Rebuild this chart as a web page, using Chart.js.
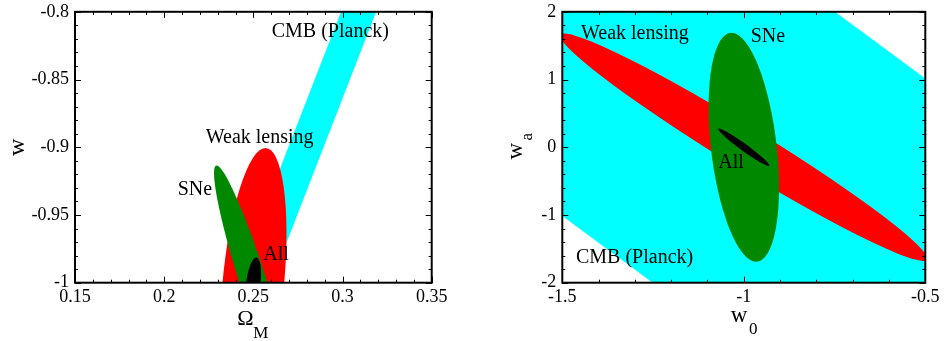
<!DOCTYPE html>
<html><head><meta charset="utf-8">
<script src="https://cdn.jsdelivr.net/npm/chart.js@4.4.1/dist/chart.umd.min.js"></script>
<style>
html,body{margin:0;padding:0;background:#fff;overflow:hidden;width:945px;height:341px;position:relative}
.p{position:absolute;top:-5px}
canvas{display:block}
</style></head><body>
<div class="p" style="left:0px"><canvas id="c1" width="470" height="346"></canvas></div>
<div class="p" style="left:470px"><canvas id="c2" width="475" height="346"></canvas></div>
<script>
// ---------- DATA ----------
// Constraint regions (ellipses): centre + two conjugate semi-diameters (data units)
const regionNames = ['CMB (Planck)', 'Weak lensing', 'SNe', 'All'];

// Left panel: Omega_M vs w
const leftCenterX = [0.25, 0.25, 0.25, 0.25];
const leftCenterY = [-1, -1, -1, -1];
const leftAxis1X  = [0.0099, 0.0173, 0.0079, 0.0040];
const leftAxis1Y  = [0, 0, 0, 0];
const leftAxis2X  = [0.59, 0.0068, -0.0206, 0.0016];
const leftAxis2Y  = [2, 0.0995, 0.0866, 0.0186];
const leftLabelX  = [0.2603, 0.2233, 0.2076, 0.2556];
const leftLabelY  = [-0.8188, -0.8969, -0.9353, -0.9829];

// Right panel: w0 vs wa
const rightCenterX = [-1, -1, -1, -1];
const rightCenterY = [0, 0, 0, 0];
const rightAxis1X  = [0.755, 0, 0.091, 0];
const rightAxis1Y  = [0, 0.355, 0, 0.065];
const rightAxis2X  = [-5, 0.505, -0.034, 0.0705];
const rightAxis2Y  = [20, -1.64, 1.69, -0.27];
const rightLabelX  = [-1.4623, -1.4485, -0.981, -1.0702];
const rightLabelY  = [-1.712, 1.600, 1.551, -0.300];

// Tick values and labels
const leftXTicks = [0.15, 0.2, 0.25, 0.3, 0.35];
const leftXTickLabels = ['0.15', '0.2', '0.25', '0.3', '0.35'];
const leftYTicks = [-1, -0.95, -0.9, -0.85, -0.8];
const leftYTickLabels = ['-1', '-0.95', '-0.9', '-0.85', '-0.8'];
const rightXTicks = [-1.5, -1, -0.5];
const rightXTickLabels = ['-1.5', '-1', '-0.5'];
const rightYTicks = [-2, -1, 0, 1, 2];
const rightYTickLabels = ['-2', '-1', '0', '1', '2'];
const leftXMinorStep = 0.01, leftYMinorStep = 0.01;
const rightXMinorStep = 0.1, rightYMinorStep = 0.2;

// ---------- STYLE ----------
const regionColors = ['#00ffff', '#ff0000', '#008800', '#000000'];
const SERIF = "'Liberation Serif', 'Times New Roman', serif";

function minorList(min, max, step) {
  const out = [];
  const n = Math.round((max - min) / step);
  for (let i = 0; i <= n; i++) out.push(+(min + i * step).toFixed(6));
  return out;
}

const ellipsePlugin = {
  id: 'ellipses',
  beforeDatasetsDraw(chart) {
    const ctx = chart.ctx, a = chart.chartArea;
    const xs = chart.scales.x, ys = chart.scales.y;
    ctx.save();
    ctx.beginPath();
    ctx.rect(a.left, a.top, a.right - a.left, a.bottom - a.top);
    ctx.clip();
    chart.data.datasets.forEach(ds => {
      const c = ds.data[0], e = ds.ellipse;
      const px = xs.getPixelForValue(c.x), py = ys.getPixelForValue(c.y);
      const ux = xs.getPixelForValue(c.x + e.ux) - px, uy = ys.getPixelForValue(c.y + e.uy) - py;
      const vx = xs.getPixelForValue(c.x + e.vx) - px, vy = ys.getPixelForValue(c.y + e.vy) - py;
      ctx.save();
      ctx.transform(ux, uy, vx, vy, px, py);
      ctx.beginPath();
      ctx.arc(0, 0, 1, 0, Math.PI * 2);
      ctx.restore();
      ctx.fillStyle = ds.fillColor;
      ctx.fill();
    });
    ctx.restore();
  }
};

function framePlugin(opt) {
  return {
    id: 'frame',
    afterDraw(chart) {
      const ctx = chart.ctx, a = chart.chartArea;
      const xs = chart.scales.x, ys = chart.scales.y;
      ctx.save();
      // region labels
      ctx.fillStyle = '#000';
      ctx.font = '20px ' + SERIF;
      ctx.textAlign = 'left';
      ctx.textBaseline = 'alphabetic';
      opt.labels.forEach((t, i) => {
        ctx.fillText(t, xs.getPixelForValue(opt.labelX[i]), ys.getPixelForValue(opt.labelY[i]));
      });
      // ticks (inside, all four sides)
      ctx.strokeStyle = '#000';
      ctx.lineWidth = 1;
      ctx.beginPath();
      const drawX = (vals, len) => vals.forEach(v => {
        const x = Math.round(xs.getPixelForValue(v)) + 0.5;
        ctx.moveTo(x, a.bottom); ctx.lineTo(x, a.bottom - len);
        ctx.moveTo(x, a.top); ctx.lineTo(x, a.top + len);
      });
      const drawY = (vals, len) => vals.forEach(v => {
        const y = Math.round(ys.getPixelForValue(v)) + 0.5;
        ctx.moveTo(a.left, y); ctx.lineTo(a.left + len, y);
        ctx.moveTo(a.right, y); ctx.lineTo(a.right - len, y);
      });
      drawX(opt.xMinor, 3); drawY(opt.yMinor, 3);
      drawX(opt.xMajor, 6); drawY(opt.yMajor, 6);
      ctx.stroke();
      // frame
      ctx.lineWidth = 2;
      ctx.strokeRect(a.left, a.top, a.right - a.left, a.bottom - a.top);
      // axis titles
      opt.titles(ctx, a);
      ctx.restore();
    }
  };
}

function makeChart(id, o) {
  const datasets = regionNames.map((n, i) => ({
    label: n,
    data: [{ x: o.cx[i], y: o.cy[i] }],
    ellipse: { ux: o.a1x[i], uy: o.a1y[i], vx: o.a2x[i], vy: o.a2y[i] },
    fillColor: regionColors[i],
    pointRadius: 0, pointHoverRadius: 0, showLine: false
  }));
  const tickFont = { family: SERIF, size: 18 };
  return new Chart(document.getElementById(id), {
    type: 'scatter',
    data: { datasets },
    options: {
      responsive: false, animation: false, devicePixelRatio: 1,
      events: [],
      layout: { padding: o.padding },
      plugins: { legend: { display: false }, tooltip: { enabled: false } },
      scales: {
        x: {
          type: 'linear', min: o.xMajor[0], max: o.xMajor[o.xMajor.length - 1],
          grid: { display: false, drawTicks: false },
          border: { display: false },
          afterBuildTicks: s => { s.ticks = o.xMajor.map(v => ({ value: v })); },
          afterFit: s => { s.height = 40; },
          ticks: { font: tickFont, color: '#000', padding: 4, maxRotation: 0, autoSkip: false,
                   callback: (v, i) => o.xLabels[i] }
        },
        y: {
          type: 'linear', min: o.yMajor[0], max: o.yMajor[o.yMajor.length - 1],
          grid: { display: false, drawTicks: false },
          border: { display: false },
          afterBuildTicks: s => { s.ticks = o.yMajor.map(v => ({ value: v })); },
          afterFit: s => { s.width = o.yWidth; },
          ticks: { font: tickFont, color: '#000', padding: 6, autoSkip: false,
                   callback: (v, i) => o.yLabels[i] }
        }
      }
    },
    plugins: [ellipsePlugin, framePlugin({
      labels: regionNames, labelX: o.lx, labelY: o.ly,
      xMajor: o.xMajor, yMajor: o.yMajor,
      xMinor: minorList(o.xMajor[0], o.xMajor[o.xMajor.length - 1], o.xStep),
      yMinor: minorList(o.yMajor[0], o.yMajor[o.yMajor.length - 1], o.yStep),
      titles: o.titles
    })]
  });
}

makeChart('c1', {
  cx: leftCenterX, cy: leftCenterY, a1x: leftAxis1X, a1y: leftAxis1Y, a2x: leftAxis2X, a2y: leftAxis2Y,
  lx: leftLabelX, ly: leftLabelY,
  xMajor: leftXTicks, xLabels: leftXTickLabels, yMajor: leftYTicks, yLabels: leftYTickLabels,
  xStep: leftXMinorStep, yStep: leftYMinorStep,
  yWidth: 75,
  padding: { left: 0, top: 14.3, right: 38.3, bottom: 18.3 },
  titles: (ctx, a) => {
    ctx.fillStyle = '#000';
    ctx.textBaseline = 'alphabetic';
    // y title: w
    ctx.save();
    ctx.translate(a.left - 51, (a.top + a.bottom) / 2);
    ctx.rotate(-Math.PI / 2);
    ctx.textAlign = 'center';
    ctx.font = '24px ' + SERIF;
    ctx.fillText('w', 0, 0);
    ctx.restore();
    // x title: Omega_M
    const cx = (a.left + a.right) / 2;
    ctx.textAlign = 'left';
    ctx.font = '22px ' + SERIF;
    ctx.fillText('Ω', cx - 16, a.bottom + 42.3);
    ctx.font = '17px ' + SERIF;
    ctx.fillText('M', cx, a.bottom + 55.3);
  }
});

makeChart('c2', {
  cx: rightCenterX, cy: rightCenterY, a1x: rightAxis1X, a1y: rightAxis1Y, a2x: rightAxis2X, a2y: rightAxis2Y,
  lx: rightLabelX, ly: rightLabelY,
  xMajor: rightXTicks, xLabels: rightXTickLabels, yMajor: rightYTicks, yLabels: rightYTickLabels,
  xStep: rightXMinorStep, yStep: rightYMinorStep,
  yWidth: 92.3,
  padding: { left: 0, top: 14.3, right: 19.7, bottom: 18.3 },
  titles: (ctx, a) => {
    ctx.fillStyle = '#000';
    ctx.textBaseline = 'alphabetic';
    // y title: w_a
    ctx.save();
    ctx.translate(a.left - 40.6, (a.top + a.bottom) / 2 + 12.3);
    ctx.rotate(-Math.PI / 2);
    ctx.textAlign = 'left';
    ctx.font = '23px ' + SERIF;
    ctx.fillText('w', 0, 0);
    ctx.font = '17px ' + SERIF;
    ctx.fillText('a', 19, 10);
    ctx.restore();
    // x title: w_0
    const cx = (a.left + a.right) / 2;
    ctx.textAlign = 'left';
    ctx.font = '23px ' + SERIF;
    ctx.fillText('w', cx - 13.1, a.bottom + 39);
    ctx.font = '17px ' + SERIF;
    ctx.fillText('0', cx + 5.2, a.bottom + 51.6);
  }
});
</script>
</body></html>
